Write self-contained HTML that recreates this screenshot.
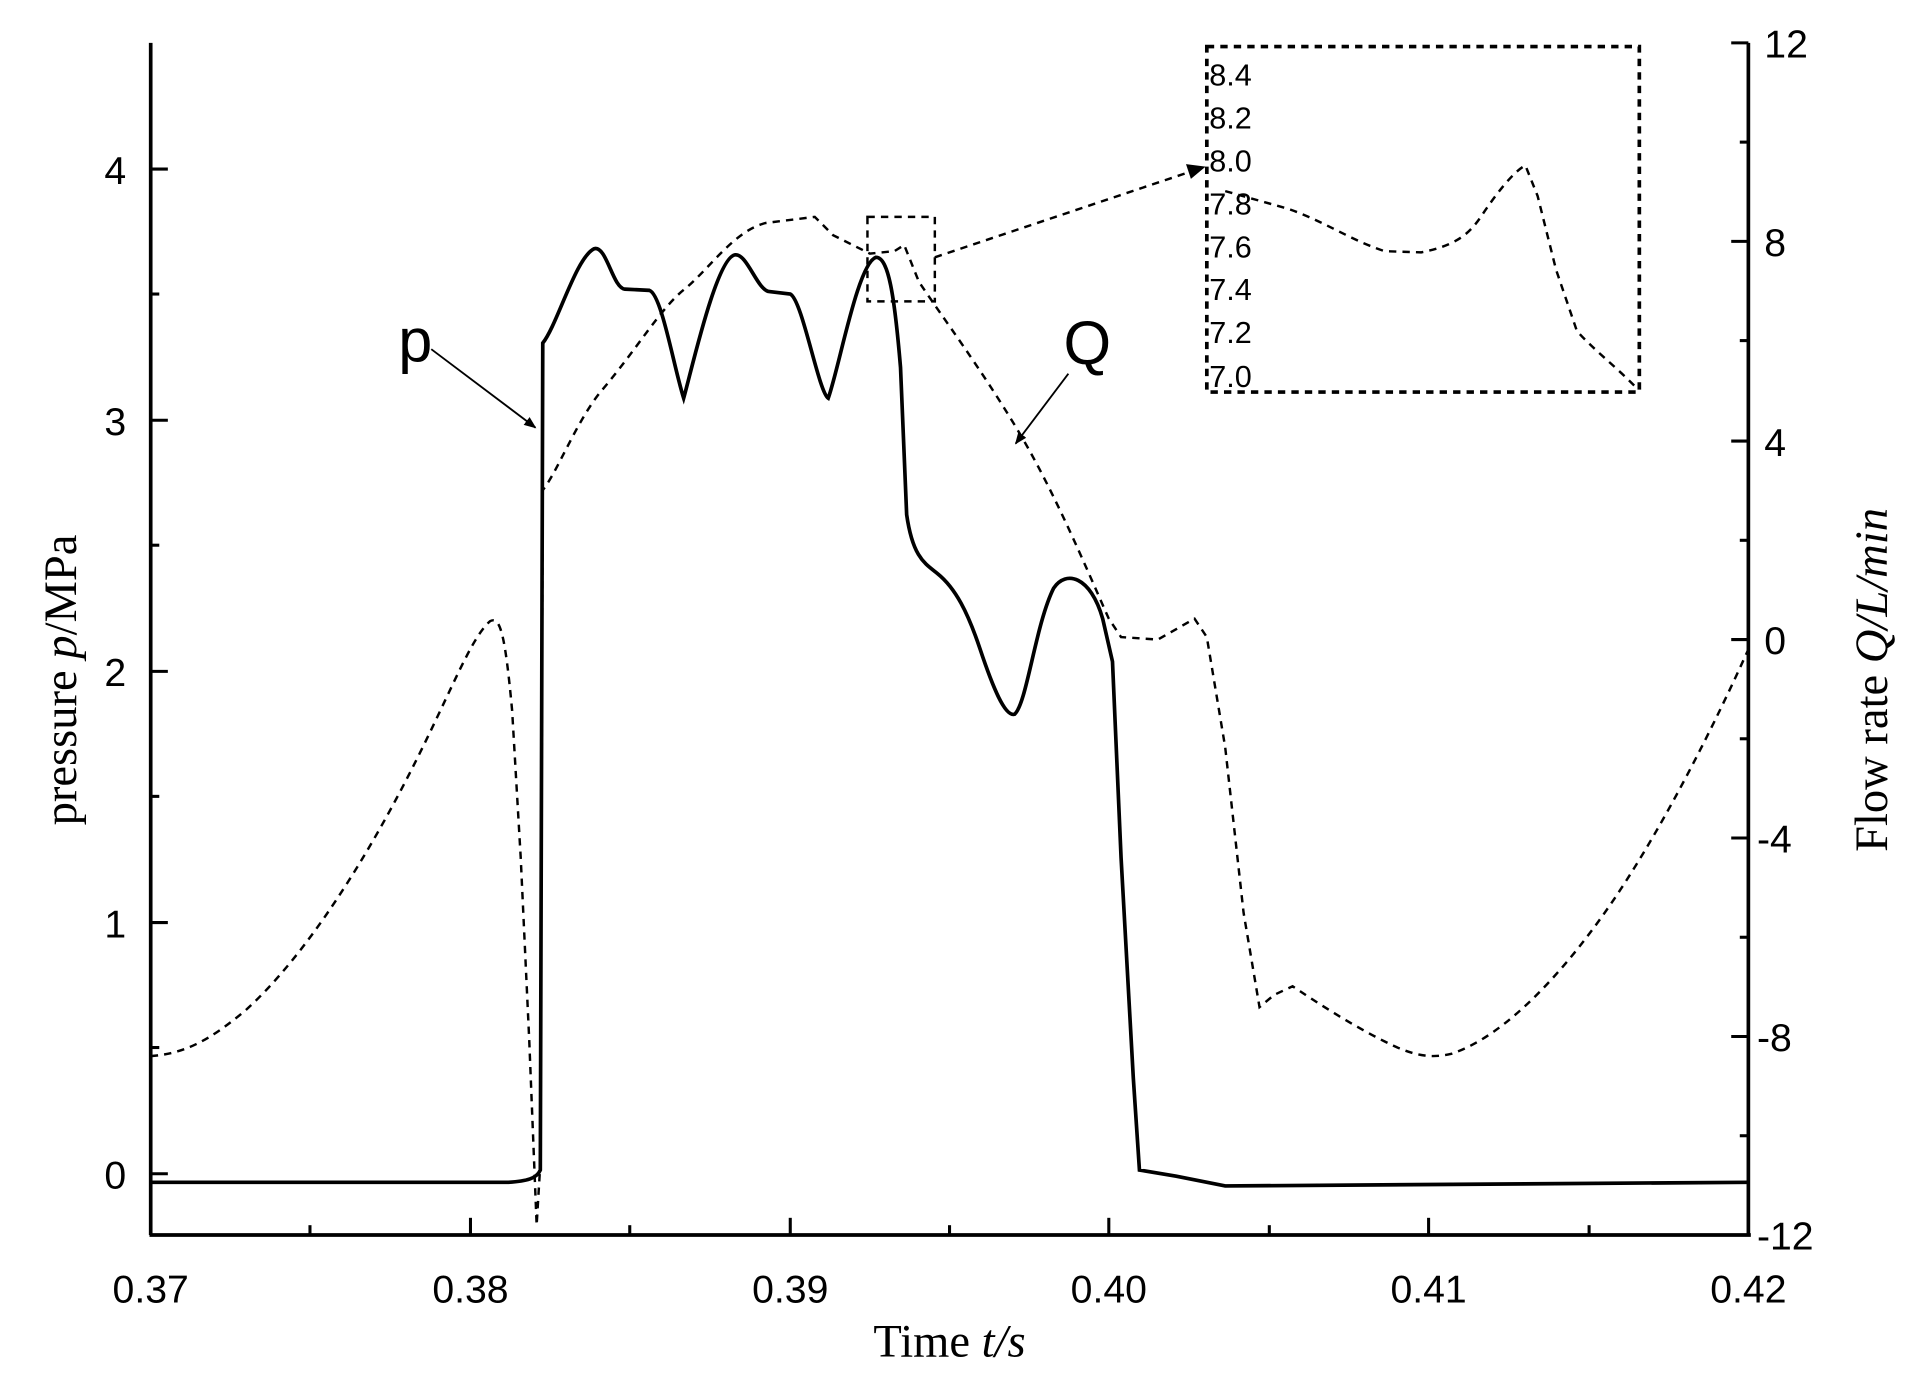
<!DOCTYPE html>
<html><head><meta charset="utf-8"><style>
html,body{margin:0;padding:0;background:#fff;width:1915px;height:1382px;overflow:hidden}
svg{display:block}
text{font-family:"Liberation Sans",Arial,sans-serif;fill:#000}
.s{font-family:"Liberation Serif","Times New Roman",serif}
</style></head><body>
<svg width="1915" height="1382" viewBox="0 0 1563 1128" preserveAspectRatio="none">
<defs><marker id="ah" markerWidth="10" markerHeight="8" refX="9" refY="4" orient="auto" markerUnits="userSpaceOnUse"><path d="M0,0 L10,4 L0,8 z" fill="#000"/></marker></defs>
<g stroke="#000" stroke-width="3" fill="none">
<line x1="123" y1="35" x2="123" y2="1008"/>
<line x1="122" y1="1008" x2="1429" y2="1008"/>
<line x1="1427" y1="35" x2="1427" y2="1008"/>
</g>
<g stroke="#000" stroke-width="2.5">
<line x1="123" y1="1008" x2="123" y2="994"/><line x1="384" y1="1008" x2="384" y2="994"/><line x1="645" y1="1008" x2="645" y2="994"/><line x1="905" y1="1008" x2="905" y2="994"/><line x1="1166" y1="1008" x2="1166" y2="994"/>
<line x1="253" y1="1008" x2="253" y2="1000"/><line x1="514" y1="1008" x2="514" y2="1000"/><line x1="775" y1="1008" x2="775" y2="1000"/><line x1="1036" y1="1008" x2="1036" y2="1000"/><line x1="1297" y1="1008" x2="1297" y2="1000"/>
<line x1="123" y1="958" x2="137" y2="958"/><line x1="123" y1="753" x2="137" y2="753"/><line x1="123" y1="548" x2="137" y2="548"/><line x1="123" y1="343" x2="137" y2="343"/><line x1="123" y1="138" x2="137" y2="138"/>
<line x1="123" y1="855" x2="130" y2="855"/><line x1="123" y1="650" x2="130" y2="650"/><line x1="123" y1="445" x2="130" y2="445"/><line x1="123" y1="240" x2="130" y2="240"/>
<line x1="1413" y1="35" x2="1427" y2="35"/><line x1="1413" y1="197" x2="1427" y2="197"/><line x1="1413" y1="360" x2="1427" y2="360"/><line x1="1413" y1="522" x2="1427" y2="522"/><line x1="1413" y1="684" x2="1427" y2="684"/><line x1="1413" y1="846" x2="1427" y2="846"/>
<line x1="1420" y1="116" x2="1427" y2="116"/><line x1="1420" y1="278" x2="1427" y2="278"/><line x1="1420" y1="441" x2="1427" y2="441"/><line x1="1420" y1="603" x2="1427" y2="603"/><line x1="1420" y1="765" x2="1427" y2="765"/><line x1="1420" y1="927" x2="1427" y2="927"/>
</g>
<g font-size="32" text-anchor="middle">
<text x="123" y="1063">0.37</text><text x="384" y="1063">0.38</text><text x="645" y="1063">0.39</text><text x="905" y="1063">0.40</text><text x="1166" y="1063">0.41</text><text x="1427" y="1063">0.42</text>
</g>
<g font-size="32" text-anchor="end">
<text x="103" y="970">0</text><text x="103" y="765">1</text><text x="103" y="560">2</text><text x="103" y="355">3</text><text x="103" y="150">4</text>
</g>
<g font-size="32" text-anchor="start">
<text x="1440" y="47">12</text><text x="1440" y="209">8</text><text x="1440" y="372">4</text><text x="1440" y="534">0</text><text x="1434" y="696">-4</text><text x="1434" y="858">-8</text><text x="1434" y="1020">-12</text>
</g>
<text class="s" x="775" y="1107" font-size="38" text-anchor="middle">Time <tspan font-style="italic">t/s</tspan></text>
<text class="s" transform="translate(62,555) rotate(-90)" font-size="38" text-anchor="middle">pressure <tspan font-style="italic">p</tspan>/MPa</text>
<text class="s" transform="translate(1540,555) rotate(-90)" font-size="38" text-anchor="middle">Flow rate <tspan font-style="italic">Q/L/min</tspan></text>
<path fill="none" stroke="#000" stroke-width="3" d="M123,965 L415,965 C430,964 438,962 441,955 L443,280 C455,265 470,210 485,203 C495,200 500,235 510,236 L530,237 C540,240 550,300 558,325 C565,300 585,210 600,208 C610,207 618,237 628,238 L645,240 C655,245 668,320 676,325 C685,300 700,215 715,210 C725,210 730,240 735,300 L740,420 C745,455 755,460 765,468 C780,480 790,500 800,530 C810,560 820,585 828,583 C838,575 845,510 860,480 C870,465 890,470 900,505 L908,540 L915,700 L925,880 L930,955 L960,960 L1000,968 L1427,965"/>
<path fill="none" stroke="#000" stroke-width="2" stroke-dasharray="6,5" d="M123,862 C150,860 170,850 200,825 C250,780 300,700 340,620 C370,560 385,520 400,507 C408,503 412,515 418,580 L425,700 L432,850 L438,1000 L441,950 L443,400 C455,385 470,345 490,320 C520,285 540,250 560,235 C580,218 600,188 625,182 L665,177 L680,192 L710,207 L730,205 L738,200 L750,230 C770,260 800,300 830,350 C860,400 885,460 905,505 L915,520 L945,522 L975,505 L985,520 L1000,610 L1015,745 L1028,822 L1040,812 L1055,805 C1070,815 1100,835 1130,850 C1150,860 1165,865 1185,860 C1230,845 1280,790 1320,730 C1360,670 1400,590 1427,530"/>
<rect x="985" y="38" width="353" height="282" fill="none" stroke="#000" stroke-width="3" stroke-dasharray="6,5"/>
<g fill="none" stroke="#000" stroke-width="2" stroke-dasharray="6,5">
<rect x="708" y="177" width="55" height="69"/>
<path d="M1000,156 L1050,170 C1080,180 1100,195 1130,205 L1160,206 C1190,200 1200,190 1210,175 C1220,160 1235,140 1245,135 L1255,160 L1270,220 L1287,270 C1300,285 1320,300 1337,318"/>
<line x1="763" y1="210" x2="972" y2="140"/>
</g>
<path d="M984,136 L968,134 L972,146 z" fill="#000"/>
<g font-size="25">
<text x="987" y="70">8.4</text><text x="987" y="105">8.2</text><text x="987" y="140">8.0</text><text x="987" y="175">7.8</text><text x="987" y="210">7.6</text><text x="987" y="245">7.4</text><text x="987" y="280">7.2</text><text x="987" y="316">7.0</text>
</g>
<text x="325" y="295" font-size="50">p</text>
<text x="868" y="297" font-size="50">Q</text>
<line x1="352" y1="285" x2="437" y2="349" stroke="#000" stroke-width="1.5" marker-end="url(#ah)"/>
<line x1="872" y1="305" x2="829" y2="362" stroke="#000" stroke-width="1.5" marker-end="url(#ah)"/>
</svg>
</body></html>
